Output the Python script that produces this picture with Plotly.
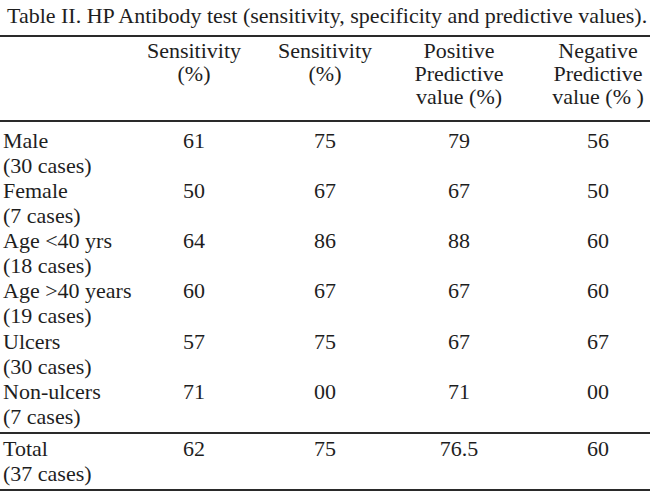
import plotly.graph_objects as go

# table contents
title = "Table II. HP Antibody test (sensitivity, specificity and predictive values)."
headers = [
    ["Sensitivity", "(%)"],
    ["Sensitivity", "(%)"],
    ["Positive", "Predictive", "value (%)"],
    ["Negative", "Predictive", "value (% )"],
]
groups = ["Male", "Female", "Age <40 yrs", "Age >40 years", "Ulcers", "Non-ulcers", "Total"]
cases = ["(30 cases)", "(7 cases)", "(18 cases)", "(19 cases)", "(30 cases)", "(7 cases)", "(37 cases)"]
sensitivity = ["61", "50", "64", "60", "57", "71", "62"]
specificity = ["75", "67", "86", "67", "75", "00", "75"]
ppv = ["79", "67", "88", "67", "67", "71", "76.5"]
npv = ["56", "50", "60", "60", "67", "00", "60"]

FONT = "Liberation Serif"
INK = "#1e1e1e"
SIZE = 22
col_x = [194, 325, 459, 598]
label_x = 3

# row positions (first text line of each row)
row_y = [142 + 50.3 * i for i in range(6)] + [450]
line_gap = 25


def text_trace(x, y, text, pos):
    return go.Scatter(x=x, y=y, text=text, mode="text", textposition=pos, cliponaxis=False,
                      textfont=dict(family=FONT, size=SIZE, color=INK), hoverinfo="skip")


fig = go.Figure()

# header cells
hx, hy, ht = [], [], []
for c, lines in enumerate(headers):
    for k, t in enumerate(lines):
        hx.append(col_x[c])
        hy.append(52 + 23 * k)
        ht.append(t)
fig.add_trace(text_trace(hx, hy, ht, "middle center"))

# row labels
fig.add_trace(text_trace([label_x] * len(groups), row_y, groups, "middle right"))
fig.add_trace(text_trace([label_x] * len(cases), [y + line_gap for y in row_y], cases, "middle right"))

# value columns
for c, vals in enumerate([sensitivity, specificity, ppv, npv]):
    fig.add_trace(text_trace([col_x[c]] * len(vals), row_y, vals, "middle center"))

# title
fig.add_annotation(x=5, y=15, xref="x", yref="y", text=title, showarrow=False,
                   xanchor="left", yanchor="middle",
                   font=dict(family=FONT, size=22, color=INK))

# horizontal rules
for y in [36, 121, 433, 490]:
    fig.add_shape(type="line", x0=0, x1=650, y0=y, y1=y, xref="x", yref="y",
                  line=dict(color="#2a2a2a", width=2))

fig.update_layout(
    width=650, height=502,
    margin=dict(l=0, r=0, t=0, b=0),
    paper_bgcolor="white", plot_bgcolor="white",
    showlegend=False,
    xaxis=dict(range=[0, 650], visible=False, fixedrange=True),
    yaxis=dict(range=[502, 0], visible=False, fixedrange=True),
)

# drop the default 8px page margin so the figure fills the window
fig.write_html("out.html", config={"displayModeBar": False},
               post_script="document.body.style.margin='0';")
